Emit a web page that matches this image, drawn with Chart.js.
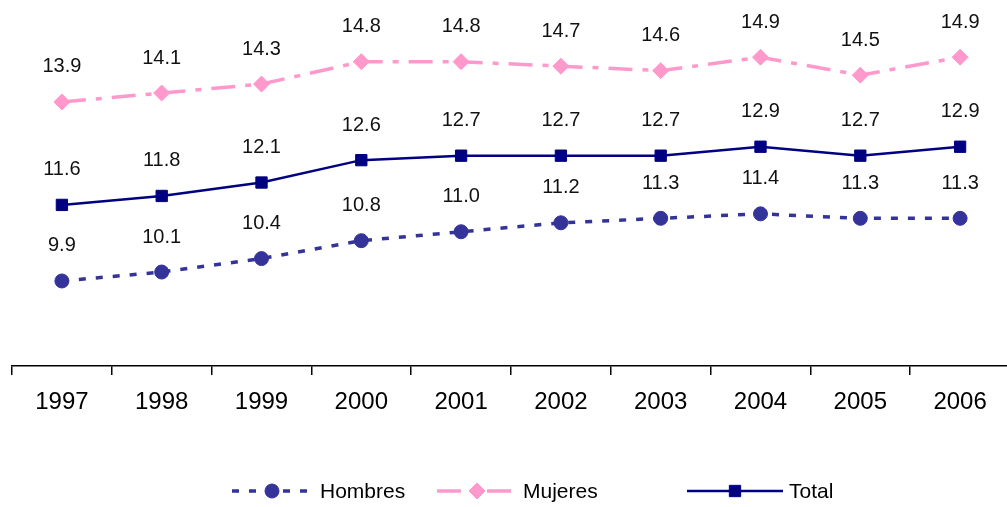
<!DOCTYPE html>
<html>
<head>
<meta charset="utf-8">
<script src="https://cdn.jsdelivr.net/npm/chart.js@4.4.0/dist/chart.umd.min.js"></script>
<style>
  html, body { margin: 0; padding: 0; background: #fff; overflow: hidden; }
  #wrap { width: 1010px; height: 507px; position: relative; }
</style>
</head>
<body>
<div id="wrap"><canvas id="chart"></canvas></div>
<script>
// data
const years = ['1997', '1998', '1999', '2000', '2001', '2002', '2003', '2004', '2005', '2006'];
const hombres = [9.9, 10.1, 10.4, 10.8, 11.0, 11.2, 11.3, 11.4, 11.3, 11.3];
const mujeres = [13.9, 14.1, 14.3, 14.8, 14.8, 14.7, 14.6, 14.9, 14.5, 14.9];
const total = [11.6, 11.8, 12.1, 12.6, 12.7, 12.7, 12.7, 12.9, 12.7, 12.9];

const FONT = '"Liberation Sans", Arial, sans-serif';

// numbers above every point
const valueLabels = {
  id: 'valueLabels',
  afterDatasetsDraw(chart) {
    const ctx = chart.ctx;
    ctx.save();
    ctx.font = '20px ' + FONT;
    ctx.fillStyle = '#111';
    ctx.textAlign = 'center';
    ctx.textBaseline = 'middle';
    chart.data.datasets.forEach((ds, i) => {
      chart.getDatasetMeta(i).data.forEach((pt, j) => {
        ctx.fillText(ds.data[j].toFixed(1), pt.x, pt.y - 35);
      });
    });
    ctx.restore();
  }
};

// excel-like legend: line sample with marker, then the name
const lineLegend = {
  id: 'lineLegend',
  afterDraw(chart, args, opts) {
    const ctx = chart.ctx;
    const y = opts.y;
    ctx.save();
    chart.data.datasets.forEach((ds, i) => {
      const e = opts.entries[i];
      ctx.strokeStyle = ds.borderColor;
      ctx.lineWidth = ds.borderWidth;
      ctx.setLineDash(ds.borderDash || []);
      ctx.beginPath();
      ctx.moveTo(e.from, y);
      ctx.lineTo(e.to, y);
      ctx.stroke();
      ctx.setLineDash([]);
      ctx.fillStyle = ds.backgroundColor;
      ctx.lineWidth = 1;
      Chart.helpers.drawPoint(ctx, {
        pointStyle: ds.pointStyle, radius: ds.pointRadius, borderWidth: 1, rotation: 0
      }, e.mark, y);
      ctx.fillStyle = '#000';
      ctx.font = '21px ' + FONT;
      ctx.textAlign = 'left';
      ctx.textBaseline = 'middle';
      ctx.fillText(ds.label, e.text, y + 1);
    });
    ctx.restore();
  }
};

new Chart(document.getElementById('chart'), {
  type: 'line',
  data: {
    labels: years,
    datasets: [
      {
        label: 'Hombres',
        data: hombres,
        borderColor: '#333399',
        backgroundColor: '#333399',
        borderWidth: 3.5,
        borderDash: [7, 10],
        pointStyle: 'circle',
        pointRadius: 7,
        pointBorderWidth: 1,
      },
      {
        label: 'Mujeres',
        data: mujeres,
        borderColor: '#ff99cc',
        backgroundColor: '#ff99cc',
        borderWidth: 3.5,
        borderDash: [24, 10, 6, 10],
        pointStyle: 'rectRot',
        pointRadius: 8,
        pointBorderWidth: 1,
      },
      {
        label: 'Total',
        data: total,
        borderColor: '#000080',
        backgroundColor: '#000080',
        borderWidth: 2.5,
        pointStyle: 'rect',
        pointRadius: 8,
        pointBorderWidth: 1,
      },
    ],
  },
  options: {
    responsive: true,
    maintainAspectRatio: false,
    animation: false,
    layout: { autoPadding: false, padding: { left: 12, right: 0, top: 8, bottom: 81 } },
    plugins: {
      legend: { display: false },
      tooltip: { enabled: false },
      lineLegend: {
        y: 491,
        entries: [
          { from: 232, to: 317, mark: 272, text: 320 },
          { from: 437, to: 515, mark: 477, text: 523 },
          { from: 687, to: 783, mark: 735, text: 789 },
        ],
      },
    },
    scales: {
      x: {
        offset: true,
        afterFit: (s) => { s.height = 60; },
        grid: {
          offset: true,
          drawOnChartArea: false,
          drawTicks: true,
          tickLength: 9,
          color: '#000',
          lineWidth: 1.5,
        },
        border: { display: true, color: '#000', width: 1.5 },
        ticks: {
          color: '#000',
          font: { family: FONT, size: 24 },
          padding: 13,
          maxRotation: 0,
        },
      },
      y: {
        display: false,
        min: 8,
        max: 16,
      },
    },
  },
  plugins: [valueLabels, lineLegend],
});
</script>
</body>
</html>
